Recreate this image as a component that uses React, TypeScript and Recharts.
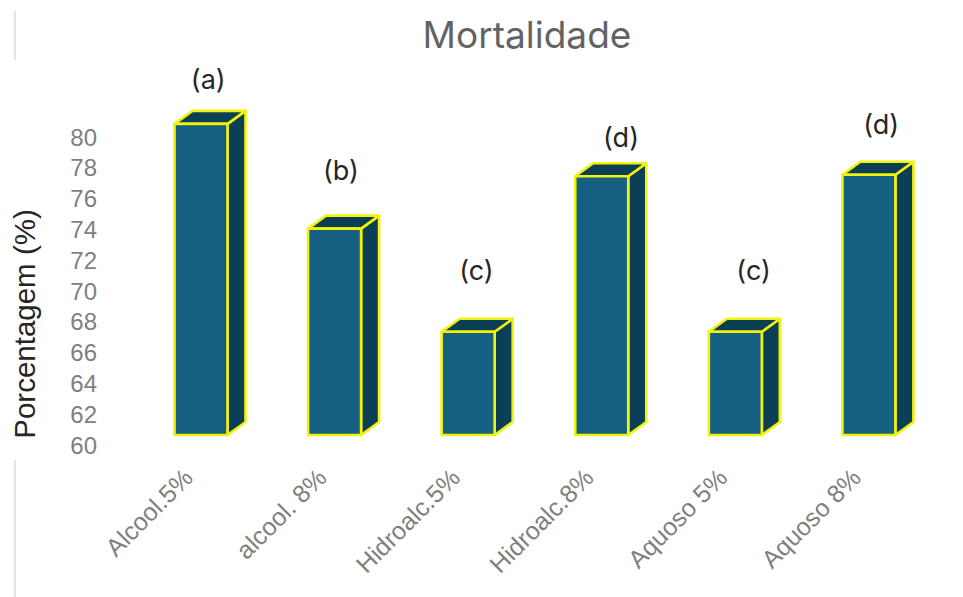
import React from 'react';
import { ComposedChart, Bar, Line, XAxis, YAxis, LabelList } from 'recharts';

const categories = ['Alcool.5%', 'alcool. 8%', 'Hidroalc.5%', 'Hidroalc.8%', 'Aquoso 5%', 'Aquoso 8%'];
const mortalidade = [80.2, 73.4, 66.7, 76.8, 66.7, 76.9];
const letters = ['(a)', '(b)', '(c)', '(d)', '(c)', '(d)'];
const letterHeights = [83.1, 77.2, 70.7, 79.3, 70.7, 80.2];
const yTicks = [60, 62, 64, 66, 68, 70, 72, 74, 76, 78, 80];

const letterShiftX = [7, 6, 8, 19, 18, 12];
const data = categories.map((name, i) => ({
  name,
  value: mortalidade[i],
  letter: letters[i],
  letterY: letterHeights[i],
}));

const FRONT = '#156082';
const DARK = '#0b3f56';
const EDGE = '#f2f20a';
const DX = 18;
const DY = 13;

const Box3D = (props: any) => {
  const { x, y, width, height } = props;
  const sw = 2.6;
  return (
    <g strokeLinejoin="round">
      <path d={`M${x + width},${y} L${x + width + DX},${y - DY} L${x + width + DX},${y + height - DY} L${x + width},${y + height} Z`} fill={DARK} stroke={EDGE} strokeWidth={sw} />
      <path d={`M${x},${y} L${x + DX},${y - DY} L${x + width + DX},${y - DY} L${x + width},${y} Z`} fill={DARK} stroke={EDGE} strokeWidth={sw} />
      <rect x={x} y={y} width={width} height={height} fill={FRONT} stroke={EDGE} strokeWidth={sw} />
    </g>
  );
};

const YTick = (props: any) => {
  const { y, payload } = props;
  return (
    <text x={97} y={y + 10} dy="0.355em" textAnchor="end" fontSize={24} fill="#7f7f7f" fontFamily="Liberation Sans">
      {payload.value}
    </text>
  );
};

const XTick = (props: any) => {
  const { x, y, payload } = props;
  return (
    <text transform={`translate(${x - 13},${y + 30}) rotate(-45)`} textAnchor="end" dy="0.355em" fontSize={25} fill="#7f7f7f" fontFamily="Liberation Sans">
      {payload.value}
    </text>
  );
};

const LetterLabel = (props: any) => {
  const { x, y, index } = props;
  return (
    <text x={x + letterShiftX[index]} y={y} dy="0.355em" textAnchor="middle" fontSize={27} fill="#262626" fontFamily="Inter">
      {letters[index]}
    </text>
  );
};

export default function App() {
  return (
    <div style={{ position: 'absolute', left: 0, top: 0, width: 963, height: 597, background: '#fff' }}>
      <ComposedChart
        width={963}
        height={597}
        data={data}
        margin={{ top: 34.6, right: 27, bottom: 0, left: 0 }}
      >
        <XAxis dataKey="name" interval={0} axisLine={false} tickLine={false} tick={<XTick />} height={162} />
        <YAxis
          domain={[60, 86]}
          ticks={yTicks}
          interval={0}
          width={134.5}
          axisLine={false}
          tickLine={false}
          tick={<YTick />}
        />
        <Bar dataKey="value" barSize={53} shape={<Box3D />} isAnimationActive={false} />
        <Line dataKey="letterY" stroke="none" dot={false} isAnimationActive={false}>
          <LabelList dataKey="letterY" content={<LetterLabel />} />
        </Line>
        <text x={527} y={48} textAnchor="middle" fontSize={37} fill="#636363" fontFamily="Inter">Mortalidade</text>
        <text transform="translate(35,324) rotate(-90)" textAnchor="middle" fontSize={29.5} fill="#262626" fontFamily="Liberation Sans">Porcentagem (%)</text>
        <line x1={15} y1={11} x2={15} y2={60} stroke="#e3e3e3" strokeWidth={2} />
        <line x1={15} y1={460} x2={15} y2={597} stroke="#e3e3e3" strokeWidth={2} />
      </ComposedChart>
    </div>
  );
}
